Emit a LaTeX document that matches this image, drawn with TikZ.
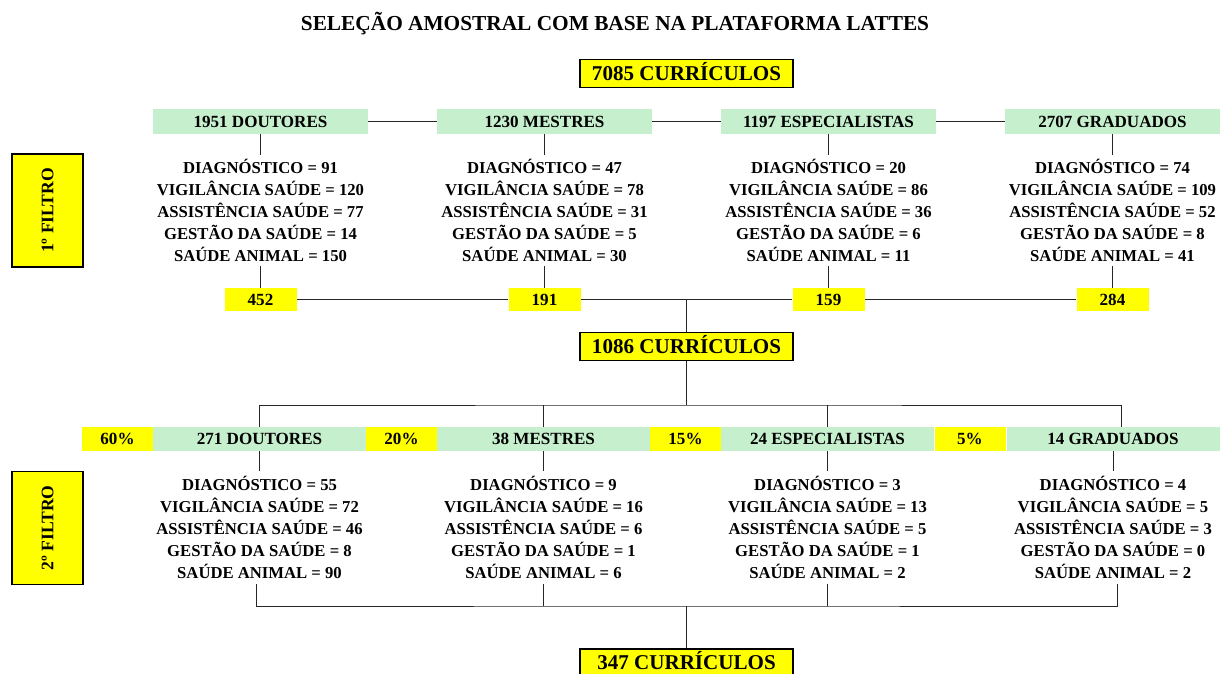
\documentclass[tikz,border=0pt]{standalone}
\usepackage{fontspec}
\setmainfont{Liberation Serif}
\definecolor{grn}{RGB}{198,239,206}
\definecolor{yel}{RGB}{255,255,0}
\newcommand{\blkfive}[5]{#1\\#2\\#3\\#4\\#5}
\begin{document}
\begin{tikzpicture}[x=0.75pt,y=-0.75pt,
  boxbase/.style={inner sep=0pt, text depth=0pt},
  hdr/.style={boxbase, text height=8.45pt, fill=grn, minimum width=161.25pt, minimum height=18.75pt, font=\bfseries\fontsize{12.8}{15}\selectfont},
  hdrtwo/.style={boxbase, text height=8.45pt, fill=grn, minimum width=159.75pt, minimum height=18pt, font=\bfseries\fontsize{12.8}{15}\selectfont},
  pct/.style={boxbase, text height=8.45pt, fill=yel, minimum width=53.25pt, minimum height=18pt, font=\bfseries\fontsize{12.8}{15}\selectfont},
  num/.style={boxbase, text height=8.45pt, fill=yel, minimum width=54pt, minimum height=17.25pt, font=\bfseries\fontsize{12.8}{15}\selectfont},
  bigbox/.style={boxbase, text height=10.45pt, fill=yel, draw=black, line width=1.4pt, minimum width=159.75pt, minimum height=21pt, font=\bfseries\fontsize{15.8}{18}\selectfont},
  filt/.style={boxbase, text height=8.7pt, fill=yel, draw=black, line width=1.4pt, rotate=90, minimum width=84.75pt, minimum height=53.25pt, font=\bfseries\fontsize{13.2}{15}\selectfont},
  tblk/.style={inner sep=0pt, align=center, font=\bfseries\fontsize{12.5}{16.5}\selectfont, minimum height=83.25pt},
  tblktwo/.style={tblk, minimum height=84pt},
  conn/.style={draw=black!85, line width=0.75pt}
]
\useasboundingbox (0,0) rectangle (1220,674);
\clip (0,0) rectangle (1220,674);
\fill[white] (0,0) rectangle (1220,674);

% title
\node[anchor=base, inner sep=0pt, font=\bfseries\fontsize{16}{18}\selectfont] (title) at (615,30.5) {SELEÇÃO AMOSTRAL COM BASE NA PLATAFORMA LATTES};

% first filter
\node[bigbox] (c1) at (686.5,73.5) {7085 CURRÍCULOS};
\node[filt] (f1) at (47.5,210.5) {1º FILTRO};

\node[hdr] (d1) at (260.5,121.5) {1951 DOUTORES};
\node[hdr] (d2) at (544.5,121.5) {1230 MESTRES};
\node[hdr] (d3) at (828.5,121.5) {1197 ESPECIALISTAS};
\node[hdr] (d4) at (1112.5,121.5) {2707 GRADUADOS};

\node[tblk] (t1) at (260.5,210.5) {\blkfive{DIAGNÓSTICO = 91}{VIGILÂNCIA SAÚDE = 120}{ASSISTÊNCIA SAÚDE = 77}{GESTÃO DA SAÚDE = 14}{SAÚDE ANIMAL = 150}};
\node[tblk] (t2) at (544.5,210.5) {\blkfive{DIAGNÓSTICO = 47}{VIGILÂNCIA SAÚDE = 78}{ASSISTÊNCIA SAÚDE = 31}{GESTÃO DA SAÚDE = 5}{SAÚDE ANIMAL = 30}};
\node[tblk] (t3) at (828.5,210.5) {\blkfive{DIAGNÓSTICO = 20}{VIGILÂNCIA SAÚDE = 86}{ASSISTÊNCIA SAÚDE = 36}{GESTÃO DA SAÚDE = 6}{SAÚDE ANIMAL = 11}};
\node[tblk] (t4) at (1112.5,210.5) {\blkfive{DIAGNÓSTICO = 74}{VIGILÂNCIA SAÚDE = 109}{ASSISTÊNCIA SAÚDE = 52}{GESTÃO DA SAÚDE = 8}{SAÚDE ANIMAL = 41}};

\node[num] (n1) at (260.5,299.5) {452};
\node[num] (n2) at (544.5,299.5) {191};
\node[num] (n3) at (828.5,299.5) {159};
\node[num] (n4) at (1112.5,299.5) {284};

\node[bigbox] (c2) at (686.5,346.5) {1086 CURRÍCULOS};

% second filter
\node[filt] (f2) at (47.5,528) {2º FILTRO};

\node[pct] (p1) at (117.5,439) {60\%};
\node[hdrtwo] (e1) at (259.5,439) {271 DOUTORES};
\node[pct] (p2) at (401.5,439) {20\%};
\node[hdrtwo] (e2) at (543.5,439) {38 MESTRES};
\node[pct] (p3) at (685.5,439) {15\%};
\node[hdrtwo] (e3) at (827.5,439) {24 ESPECIALISTAS};
\node[pct] (p4) at (970,439) {5\%};
\node[hdrtwo] (e4) at (1113,439) {14 GRADUADOS};

\node[tblktwo] (u1) at (259.5,527.5) {\blkfive{DIAGNÓSTICO = 55}{VIGILÂNCIA SAÚDE = 72}{ASSISTÊNCIA SAÚDE = 46}{GESTÃO DA SAÚDE = 8}{SAÚDE ANIMAL = 90}};
\node[tblktwo] (u2) at (543.5,527.5) {\blkfive{DIAGNÓSTICO = 9}{VIGILÂNCIA SAÚDE = 16}{ASSISTÊNCIA SAÚDE = 6}{GESTÃO DA SAÚDE = 1}{SAÚDE ANIMAL = 6}};
\node[tblktwo] (u3) at (827.5,527.5) {\blkfive{DIAGNÓSTICO = 3}{VIGILÂNCIA SAÚDE = 13}{ASSISTÊNCIA SAÚDE = 5}{GESTÃO DA SAÚDE = 1}{SAÚDE ANIMAL = 2}};
\node[tblktwo] (u4) at (1113,527.5) {\blkfive{DIAGNÓSTICO = 4}{VIGILÂNCIA SAÚDE = 5}{ASSISTÊNCIA SAÚDE = 3}{GESTÃO DA SAÚDE = 0}{SAÚDE ANIMAL = 2}};

\node[bigbox] (c3) at (686.5,663) {347 CURRÍCULOS};

% connectors, first filter
\draw[conn] (d1) -- (d2);
\draw[conn] (d2) -- (d3);
\draw[conn] (d3) -- (d4);
\foreach \i in {1,2,3,4}{
  \draw[conn] (d\i.south) -- (t\i.north);
  \draw[conn] (t\i.south) -- (n\i.north);
}
\draw[conn] (n1) -- (n2);
\draw[conn] (n2) -- (n3);
\draw[conn] (n3) -- (n4);
\draw[conn] (c2.north) -- (c2.north |- n2.east);

% connectors, second filter
\coordinate (bustwo) at (686.5,405);
\draw[conn] (c2.south) -- (bustwo);
\draw[conn] (e1.north) |- (bustwo) -| ([xshift=6pt]e4.north);
\draw[conn] (e2.north) -- (e2.north |- bustwo);
\draw[conn] (e3.north) -- (e3.north |- bustwo);
\foreach \i in {1,2,3,4}{
  \draw[conn] (e\i.south) -- (u\i.north);
}
\coordinate (busthree) at (686.5,606);
\draw[conn] ([xshift=-2pt]u1.south) |- (busthree) -| ([xshift=3pt]u4.south);
\draw[conn] (u2.south) -- (u2.south |- busthree);
\draw[conn] (u3.south) -- (u3.south |- busthree);
\draw[conn] (busthree) -- (c3.north);
\end{tikzpicture}
\end{document}
